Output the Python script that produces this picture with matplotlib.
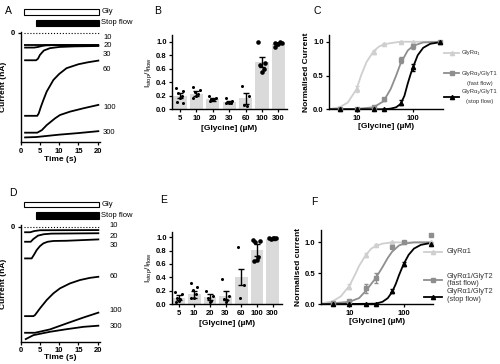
import matplotlib
matplotlib.use('Agg')
import matplotlib.pyplot as plt
from matplotlib.lines import Line2D
from matplotlib.patches import Rectangle

plt.rcParams['font.family'] = ['Liberation Sans', 'DejaVu Sans']
plt.rcParams['mathtext.fontset'] = 'custom'
plt.rcParams['mathtext.rm'] = 'Liberation Sans'
plt.rcParams['mathtext.bf'] = 'Liberation Sans:bold'
plt.rcParams['axes.linewidth'] = 1.0

W, H = 500, 364

# ---- A / D : current traces (time s, current nA) ----
conc_labels = ['10', '20', '30', '60', '100', '300']

times_A = [[0.9, 20.4],
           [0.9, 3.5, 4.5, 5.5, 6.5, 8, 20.4],
           [0.9, 4.0, 4.5, 5.0, 6.0, 7.6, 10, 14, 20.4],
           [0.9, 4.3, 4.7, 5.2, 5.9, 6.75, 8.5, 10, 11.9, 15, 17.5, 20.4],
           [0.9, 4.3, 5.5, 6.75, 8.9, 10.2, 12.8, 16.3, 20.4],
           [0.9, 4.0, 10, 15, 20.4]]
current_A = [[-0.61, -0.61],
             [-0.74, -0.74, -0.71, -0.66, -0.63, -0.62, -0.62],
             [-1.38, -1.38, -1.3, -1.11, -0.89, -0.77, -0.71, -0.68, -0.66],
             [-4.18, -4.18, -4.05, -3.75, -3.38, -2.96, -2.37, -2.07, -1.78, -1.58, -1.48, -1.39],
             [-5.03, -5.03, -4.9, -4.65, -4.31, -4.14, -3.97, -3.8, -3.62],
             [-5.27, -5.25, -5.13, -5.05, -4.95]]
label_y_A = [-0.24, -0.64, -1.08, -1.83, -3.77, -5.02]

times_D = [[0.9, 2.5, 3.5, 5, 20.4],
           [0.9, 2.6, 3.3, 4.5, 6, 8, 20.4],
           [0.9, 2.85, 3.5, 4.15, 5, 5.9, 7, 8.5, 11.9, 20.4],
           [0.9, 3.3, 3.7, 5.0, 6.75, 8.5, 10.2, 12.8, 15.4, 18, 20.4],
           [0.9, 3.7, 7.6, 11.9, 16.3, 20.4],
           [1.1, 3.3, 7.6, 11.9, 16.3, 20.4]]
current_D = [[-0.28, -0.28, -0.22, -0.18, -0.17],
             [-0.76, -0.76, -0.62, -0.45, -0.38, -0.35, -0.33],
             [-1.6, -1.6, -1.4, -1.18, -0.98, -0.84, -0.76, -0.72, -0.71, -0.64],
             [-4.51, -4.51, -4.46, -4.12, -3.7, -3.36, -3.11, -2.86, -2.69, -2.58, -2.52],
             [-5.35, -5.35, -5.18, -4.88, -4.58, -4.32],
             [-5.69, -5.47, -5.3, -5.17, -5.05, -4.99]]
label_y_D = [0.05, -0.51, -0.96, -2.53, -4.24, -5.05]

gly_on, stop_on, app_end = 0.9, 4.0, 20.4

# ---- B / E : Istop/Iflow ----
bar_cats = ['5', '10', '20', '30', '60', '100', '300']
mean_B = [0.20, 0.23, 0.15, 0.11, 0.16, 0.70, 0.97]
sem_B = [0.04, 0.04, 0.02, 0.02, 0.08, 0.08, 0.01]
pts_B = [[0.31, 0.27, 0.24, 0.2, 0.16, 0.11, 0.10],
         [0.33, 0.29, 0.26, 0.22, 0.2, 0.16],
         [0.2, 0.16, 0.15, 0.15, 0.14, 0.13],
         [0.16, 0.12, 0.11, 0.1, 0.1, 0.09],
         [0.35, 0.2, 0.06, 0.05],
         [1.0, 0.68, 0.66, 0.6, 0.55],
         [0.98, 0.98, 0.97, 0.99, 0.97, 0.92]]

mean_E = [0.10, 0.15, 0.11, 0.13, 0.40, 0.81, 0.97]
sem_E = [0.04, 0.05, 0.04, 0.07, 0.12, 0.09, 0.01]
pts_E = [[0.18, 0.15, 0.1, 0.08, 0.05, 0.03],
         [0.31, 0.25, 0.22, 0.15, 0.1, 0.09],
         [0.2, 0.13, 0.1, 0.05, 0.04],
         [0.38, 0.12, 0.08, 0.06, 0.04],
         [0.85, 0.28, 0.1],
         [0.96, 0.94, 0.92, 0.7, 0.66, 0.65],
         [0.99, 0.98, 0.97, 0.98, 0.99]]

# ---- C / F : concentration-response ----
conc = [5, 10, 20, 30, 60, 100, 300]

C_alpha = [0.02, 0.30, 0.85, 0.97, 1.0, 1.0, 1.0]
C_alpha_err = [0.01, 0.05, 0.03, 0.01, 0, 0, 0]
C_fast = [0.0, 0.0, 0.03, 0.15, 0.73, 0.93, 1.0]
C_fast_err = [0, 0, 0.01, 0.02, 0.05, 0.03, 0]
C_stop = [0.0, 0.0, 0.0, 0.0, 0.10, 0.62, 1.0]
C_stop_err = [0, 0, 0, 0, 0.04, 0.05, 0.01]

# fitted curves
C_fit_alpha_x = [3.3, 5, 7, 10, 12, 15, 20, 25, 30, 40, 60, 100, 340]
C_fit_alpha_y = [0.005, 0.03, 0.1, 0.3, 0.5, 0.7, 0.86, 0.93, 0.96, 0.98, 1.0, 1.0, 1.0]
C_fit_fast_x = [3.3, 10, 20, 30, 40, 50, 60, 80, 100, 150, 340]
C_fit_fast_y = [0.0, 0.005, 0.03, 0.12, 0.3, 0.5, 0.68, 0.87, 0.94, 0.99, 1.0]
C_fit_stop_x = [3.3, 30, 40, 50, 60, 70, 80, 90, 100, 120, 150, 200, 340]
C_fit_stop_y = [0.0, 0.0, 0.01, 0.03, 0.08, 0.2, 0.38, 0.52, 0.63, 0.8, 0.91, 0.97, 1.0]

F_alpha = [0.03, 0.28, 0.80, 0.96, 1.0, 1.0, 1.0]
F_alpha_err = [0.01, 0.04, 0.03, 0.01, 0, 0, 0]
F_fast = [0.02, 0.05, 0.26, 0.42, 0.93, 1.0, 1.12]
F_fast_err = [0.01, 0.01, 0.07, 0.08, 0.02, 0.01, 0]
F_stop = [0.0, 0.0, 0.0, 0.01, 0.22, 0.65, 0.98]
F_stop_err = [0, 0, 0, 0, 0.03, 0.03, 0.01]

F_fit_alpha_x = [3, 5, 7, 10, 13, 15, 20, 25, 30, 40, 60, 337]
F_fit_alpha_y = [0.01, 0.05, 0.13, 0.3, 0.5, 0.62, 0.8, 0.9, 0.94, 0.98, 1.0, 1.0]
F_fit_fast_x = [3, 10, 15, 20, 25, 30, 40, 50, 60, 80, 100, 150, 337]
F_fit_fast_y = [0.0, 0.04, 0.1, 0.22, 0.33, 0.42, 0.6, 0.75, 0.85, 0.95, 0.98, 1.0, 1.0]
F_fit_stop_x = [3, 30, 40, 50, 60, 70, 80, 90, 100, 120, 150, 200, 300, 337]
F_fit_stop_y = [0.0, 0.01, 0.04, 0.1, 0.2, 0.33, 0.47, 0.58, 0.67, 0.8, 0.9, 0.96, 0.99, 1.0]

light = '#cfcfcf'
mid = '#8e8e8e'
bar_grey = '#dadada'

fig = plt.figure(figsize=(W / 100, H / 100), dpi=100)


def px_axes(left, top, right, bottom):
    return fig.add_axes([left / W, 1 - bottom / H, (right - left) / W, (bottom - top) / H])


def fig_xy(x, y):
    return x / W, 1 - y / H


def style(ax):
    for s in ['top', 'right']:
        ax.spines[s].set_visible(False)
    ax.tick_params(length=2.5, width=0.9, labelsize=5.5, pad=1.5)
    for lab in ax.get_xticklabels() + ax.get_yticklabels():
        lab.set_fontweight('bold')


def traces(ax, times, currents, label_y, label_x, ymin, bars_y):
    ax.set_xlim(0, 20.6)
    ax.set_ylim(ymin, 0.06)
    for t, i in zip(times, currents):
        ax.plot(t, i, color='black', lw=1.3, solid_capstyle='butt')
    ax.plot([gly_on, app_end + 0.2], [0, 0], ls=':', color='black', lw=0.8, clip_on=False)
    for lab, y in zip(conc_labels, label_y):
        ax.text(label_x, y, lab, fontsize=5.5, va='center', ha='left')
    # application bars
    (g0, g1), (s0, s1) = bars_y
    ax.add_patch(Rectangle((gly_on, g0), app_end - gly_on, g1 - g0, facecolor='white',
                           edgecolor='black', lw=0.8, clip_on=False))
    ax.add_patch(Rectangle((stop_on, s0), app_end - stop_on, s1 - s0, facecolor='black',
                           edgecolor='black', lw=0.8, clip_on=False))
    ax.text(app_end + 0.5, (g0 + g1) / 2, 'Gly', fontsize=5.5, va='center')
    ax.text(app_end + 0.5, (s0 + s1) / 2, 'Stop flow', fontsize=5.5, va='center')
    ax.set_xticks([0, 5, 10, 15, 20])
    ax.set_yticks([0])
    ax.set_xlabel('Time (s)', fontsize=6, fontweight='bold', labelpad=1)
    ax.set_ylabel('Current (nA)', fontsize=6, fontweight='bold', labelpad=3)
    style(ax)


axA = px_axes(20.7, 31.7, 100, 142)
traces(axA, times_A, current_A, label_y_A, 21.4, -5.5, ((0.91, 1.21), (0.35, 0.66)))
axD = px_axes(20.7, 225.5, 100, 341.7)
traces(axD, times_D, current_D, label_y_D, 23.0, -5.8, ((0.98, 1.26), (0.39, 0.73)))
axD.xaxis.labelpad = -0.5

offsets = [-0.22, 0.2, -0.1, 0.1, 0.0, -0.18, 0.18]


def bars(ax, means, sems, pts, ytop, xlim):
    pos = list(range(len(bar_cats)))
    ax.bar(pos, means, width=0.8, color=bar_grey, zorder=1)
    ax.errorbar(pos, means, yerr=sems, fmt='none', ecolor='black', elinewidth=1.0,
                capsize=2.2, capthick=1.0, zorder=3)
    for k, vals in enumerate(pts):
        ms = 3.3 if k >= 5 else 2.2
        xs = [k + offsets[j % len(offsets)] for j in range(len(vals))]
        ax.plot(xs, vals, ls='none', marker='o', ms=ms, color='black', mec='none', zorder=2)
    ax.set_xlim(*xlim)
    ax.set_ylim(0, ytop)
    ax.set_xticks(pos)
    ax.set_xticklabels(bar_cats)
    ax.set_yticks([0, 0.2, 0.4, 0.6, 0.8, 1.0])
    ax.set_yticklabels(['0.0', '0.2', '0.4', '0.6', '0.8', '1.0'])
    ax.set_xlabel('[Glycine] (µM)', fontsize=6, fontweight='bold', labelpad=2)
    ax.set_ylabel(r'I$_{\mathrm{stop}}$/I$_{\mathrm{flow}}$', fontsize=6, labelpad=1)
    ax.tick_params(axis='x', length=0)
    style(ax)


axB = px_axes(172.3, 35, 286.7, 109.3)
bars(axB, mean_B, sem_B, pts_B, 1.1, (-0.47, 6.51))
axE = px_axes(172.3, 231.7, 282, 304.3)
bars(axE, mean_E, sem_E, pts_E, 1.08, (-0.4, 6.6))


def dose(ax, series, fits, xlim, ytop, ylabel):
    cols = [light, mid, 'black']
    marks = ['^', 's', '^']
    for (y, e), (fx, fy), c, m in zip(series, fits, cols, marks):
        ax.plot(fx, fy, color=c, lw=1.3, zorder=2)
        ax.errorbar(conc, y, yerr=e, fmt=m, color=c, ms=3, elinewidth=0.9, capsize=1.5,
                    zorder=3, clip_on=False)
    ax.set_xscale('log')
    ax.set_xlim(*xlim)
    ax.set_ylim(0, ytop)
    ax.set_xticks([10, 100])
    ax.set_xticklabels(['10', '100'])
    ax.minorticks_off()
    ax.set_yticks([0, 0.5, 1.0])
    ax.set_yticklabels(['0.0', '0.5', '1.0'])
    ax.set_xlabel('[Glycine] (µM)', fontsize=6, fontweight='bold', labelpad=1)
    ax.set_ylabel(ylabel, fontsize=6, fontweight='bold', labelpad=2)
    style(ax)


axC = px_axes(329.3, 35, 443.3, 109.3)
dose(axC, [(C_alpha, C_alpha_err), (C_fast, C_fast_err), (C_stop, C_stop_err)],
     [(C_fit_alpha_x, C_fit_alpha_y), (C_fit_fast_x, C_fit_fast_y), (C_fit_stop_x, C_fit_stop_y)],
     (3.3, 340), 1.1, 'Normalised Current')
axF = px_axes(320.7, 230, 433.3, 304.3)
dose(axF, [(F_alpha, F_alpha_err), (F_fast, F_fast_err), (F_stop, F_stop_err)],
     [(F_fit_alpha_x, F_fit_alpha_y), (F_fit_fast_x, F_fit_fast_y), (F_fit_stop_x, F_fit_stop_y)],
     (3.0, 337), 1.2, 'Normalised current')


# legends
def legend_line(x0, x1, y, color, marker):
    xa, ya = fig_xy(x0, y)
    xb, _ = fig_xy(x1, y)
    fig.add_artist(Line2D([xa, xb], [ya, ya], color=color, lw=1.3))
    fig.add_artist(Line2D([(xa + xb) / 2], [ya], color=color, marker=marker, ms=3, ls='none'))


def ftext(x, y, s, size=5.3, **kw):
    fx, fy = fig_xy(x, y)
    fig.text(fx, fy, s, fontsize=size, color='#333333', va='center', **kw)


legend_line(444, 459, 52.7, light, '^')
legend_line(444, 459, 73.3, mid, 's')
legend_line(444, 459, 96.7, 'black', '^')
ftext(462, 52.7, 'GlyRα₁', size=4.2)
ftext(462, 73, 'GlyRα₁/GlyT1', size=4.2)
ftext(480, 84, '(fast flow)', size=4.2, ha='center')
ftext(462, 91.7, 'GlyRα₁/GlyT1', size=4.2)
ftext(480, 101.7, '(stop flow)', size=4.2, ha='center')

legend_line(424, 442, 251.7, light, '^')
legend_line(424, 442, 280, mid, 's')
legend_line(424, 442, 296.7, 'black', '^')
ftext(447, 251.7, 'GlyRα1')
ftext(447, 276, 'GlyRα1/GlyT2')
ftext(447, 283.3, '(fast flow)')
ftext(447, 291.7, 'GlyRα1/GlyT2')
ftext(447, 299.3, '(stop flow)')

# panel letters
for letter, x, y in [('A', 8.5, 11.5), ('B', 158, 11.5), ('C', 317, 11),
                     ('D', 13, 193), ('E', 164, 200), ('F', 314, 202)]:
    fx, fy = fig_xy(x, y)
    fig.text(fx, fy, letter, fontsize=7.5, ha='center', va='center')

fig.savefig('out.png', dpi=100)
